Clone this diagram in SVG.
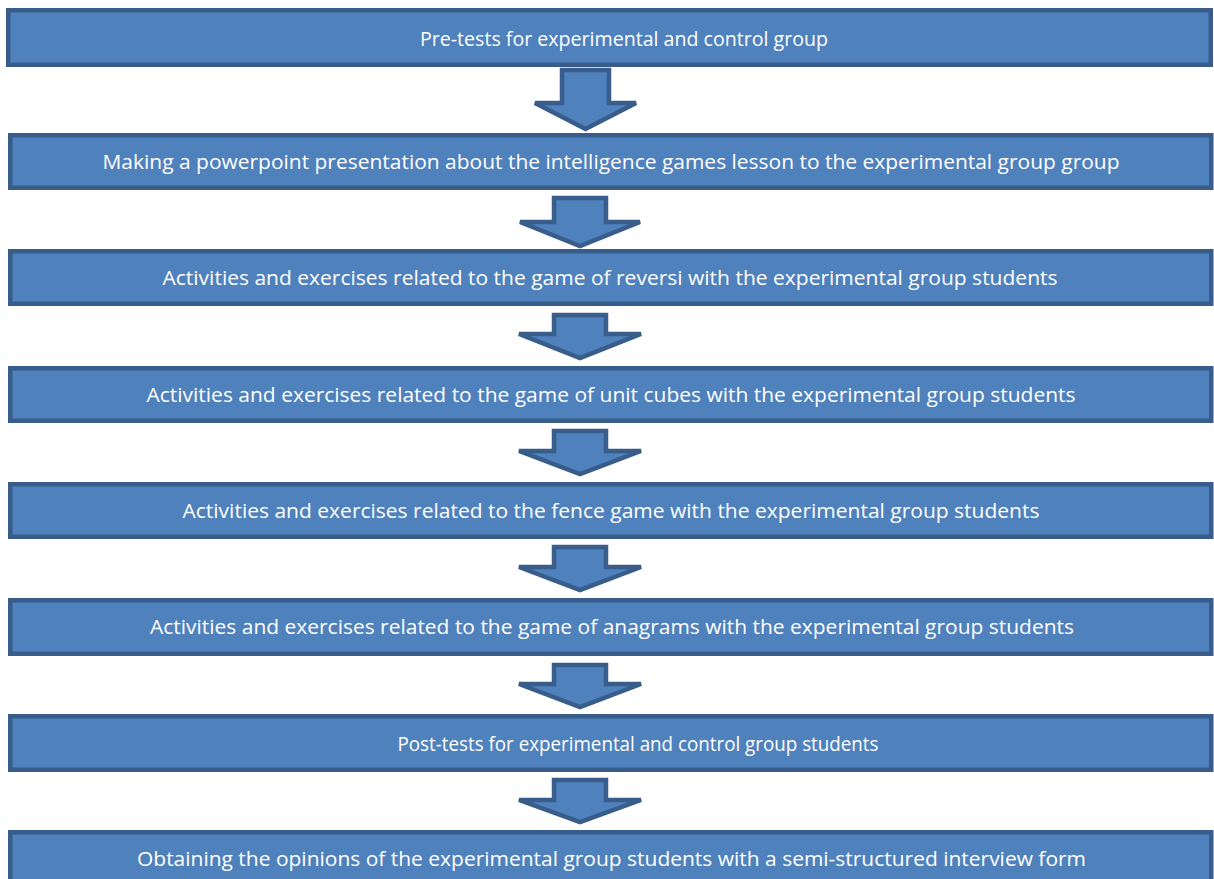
<svg xmlns="http://www.w3.org/2000/svg" width="1214" height="879" viewBox="0 0 1214 879">
<style>
.box{fill:#4F81BD;stroke:#385D8A;stroke-width:4.5}
.arr{fill:#4F81BD;stroke:#385D8A;stroke-width:4.5;stroke-linejoin:miter}
.t{fill:#ffffff;font-family:"Open Sans","Noto Sans",sans-serif;font-size:19.5px;text-anchor:middle}
</style>
<rect width="1214" height="879" fill="#ffffff"/>
<g id="connectors">
<polygon class="arr" points="562,70 609,70 609,103 636,103 585.5,129 535,103 562,103"/>
<polygon class="arr" points="554,198 606,198 606,222 640,222 580,246 520,222 554,222"/>
<polygon class="arr" points="554,315 606,315 606,334 641,334 580,358 519,334 554,334"/>
<polygon class="arr" points="554,431 606,431 606,451 641,451 580,474 519,451 554,451"/>
<polygon class="arr" points="554,547 606,547 606,567 641,567 580,590 519,567 554,567"/>
<polygon class="arr" points="554,665 606,665 606,684 641,684 580,707 519,684 554,684"/>
<polygon class="arr" points="554,780 606,780 606,800 641,800 580,822 519,800 554,800"/>
</g>
<g id="n1"><rect class="box" x="8.25" y="10.25" width="1202.5" height="54.5"/><text class="t" x="624" y="46" textLength="408" lengthAdjust="spacingAndGlyphs">Pre-tests for experimental and control group</text></g>
<g id="n2"><rect class="box" x="10.25" y="135.25" width="1201" height="52.5"/><text class="t" x="611" y="169" textLength="1017" lengthAdjust="spacingAndGlyphs">Making a powerpoint presentation about the intelligence games lesson to the experimental group group</text></g>
<g id="n3"><rect class="box" x="10.25" y="251.25" width="1201" height="52.5"/><text class="t" x="610" y="285" textLength="895" lengthAdjust="spacingAndGlyphs">Activities and exercises related to the game of reversi with the experimental group students</text></g>
<g id="n4"><rect class="box" x="10.25" y="368.25" width="1201" height="52.5"/><text class="t" x="611" y="402" textLength="929" lengthAdjust="spacingAndGlyphs">Activities and exercises related to the game of unit cubes with the experimental group students</text></g>
<g id="n5"><rect class="box" x="10.25" y="484.25" width="1201" height="52.5"/><text class="t" x="611" y="518" textLength="857" lengthAdjust="spacingAndGlyphs">Activities and exercises related to the fence game with the experimental group students</text></g>
<g id="n6"><rect class="box" x="10.25" y="600.25" width="1201" height="53.5"/><text class="t" x="612" y="634" textLength="924" lengthAdjust="spacingAndGlyphs">Activities and exercises related to the game of anagrams with the experimental group students</text></g>
<g id="n7"><rect class="box" x="10.25" y="716.25" width="1201" height="53.5"/><text class="t" x="638" y="751" textLength="481" lengthAdjust="spacingAndGlyphs">Post-tests for experimental and control group students</text></g>
<g id="n8"><rect class="box" x="10.25" y="832.25" width="1201" height="53.5"/><text class="t" x="611.5" y="866" textLength="949" lengthAdjust="spacingAndGlyphs">Obtaining the opinions of the experimental group students with a semi-structured interview form</text></g>
</svg>
